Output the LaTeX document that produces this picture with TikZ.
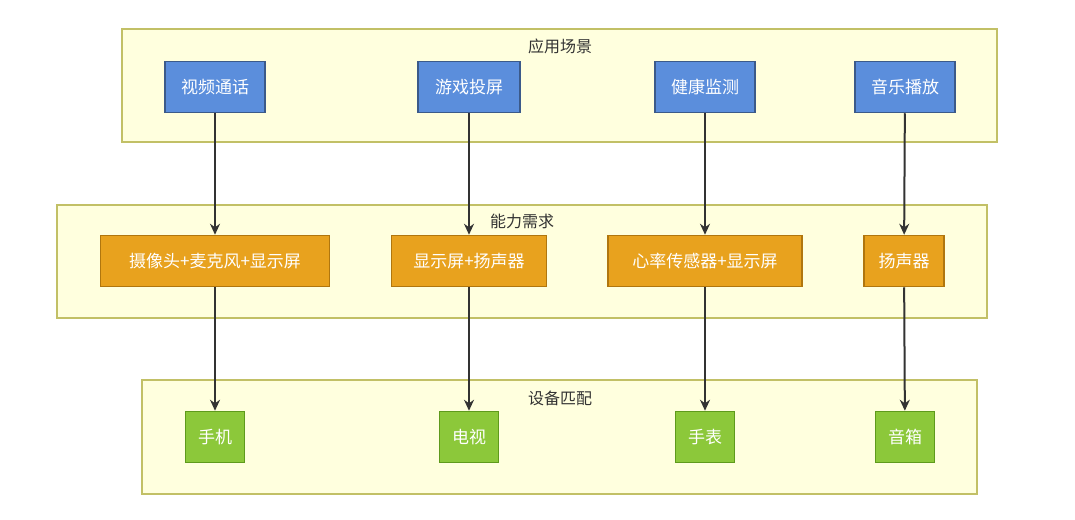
\documentclass[tikz,border=0pt]{standalone}
\usepackage{fontspec}
\setmainfont{Noto Sans CJK SC}
\usetikzlibrary{arrows.meta}
\definecolor{grpf}{HTML}{FFFFDE}
\definecolor{grpd}{HTML}{C2C066}
\definecolor{bluef}{HTML}{5B8EDC}
\definecolor{blued}{HTML}{3B5A8A}
\definecolor{orf}{HTML}{E8A21E}
\definecolor{ord}{HTML}{B0760E}
\definecolor{grf}{HTML}{8CC83A}
\definecolor{grd}{HTML}{5E9A1C}
\begin{document}
\begin{tikzpicture}[x=1pt,y=-1pt,
 grp/.style={draw=grpd,fill=grpf,line width=1.2pt},
 ttl/.style={font=\fontsize{16}{18}\selectfont,text=black!80},
 box/.style={draw,line width=1.5pt,text=white,font=\fontsize{17}{20}\selectfont,inner sep=0pt,minimum height=51pt},
 b/.style={box,fill=bluef,draw=blued,minimum width=100pt},
 o/.style={box,fill=orf,draw=ord},
 g/.style={box,fill=grf,draw=grd,minimum width=59pt},
 ar/.style={draw=black!80,line width=2pt,-{Stealth[length=11pt,width=10pt]}}]
\useasboundingbox (0,0) rectangle (1075,519);
\draw[grp] (122,29) rectangle (997,142);
\draw[grp] (57,205) rectangle (987,318);
\draw[grp] (142,380) rectangle (977,494);
\node[ttl] (t1) at (560,46) {应用场景};
\node[ttl] (t2) at (522,221) {能力需求};
\node[ttl] (t3) at (560,398) {设备匹配};
\node[b] (a1) at (215,87) {视频通话};
\node[b,minimum width=102pt] (a2) at (469,87) {游戏投屏};
\node[b] (a3) at (705,87) {健康监测};
\node[b] (a4) at (905,87) {音乐播放};
\node[o,minimum width=229pt] (c1) at (215,261) {摄像头+麦克风+显示屏};
\node[o,minimum width=155pt] (c2) at (469,261) {显示屏+扬声器};
\node[o,minimum width=194pt] (c3) at (705,261) {心率传感器+显示屏};
\node[o,minimum width=80pt] (c4) at (904,261) {扬声器};
\node[g] (d1) at (215,437) {手机};
\node[g] (d2) at (469,437) {电视};
\node[g] (d3) at (705,437) {手表};
\node[g] (d4) at (905,437) {音箱};
\foreach \i in {1,...,4}{
 \draw[ar] (a\i) -- (c\i);
 \draw[ar] (c\i) -- (d\i);}
\end{tikzpicture}
\end{document}
